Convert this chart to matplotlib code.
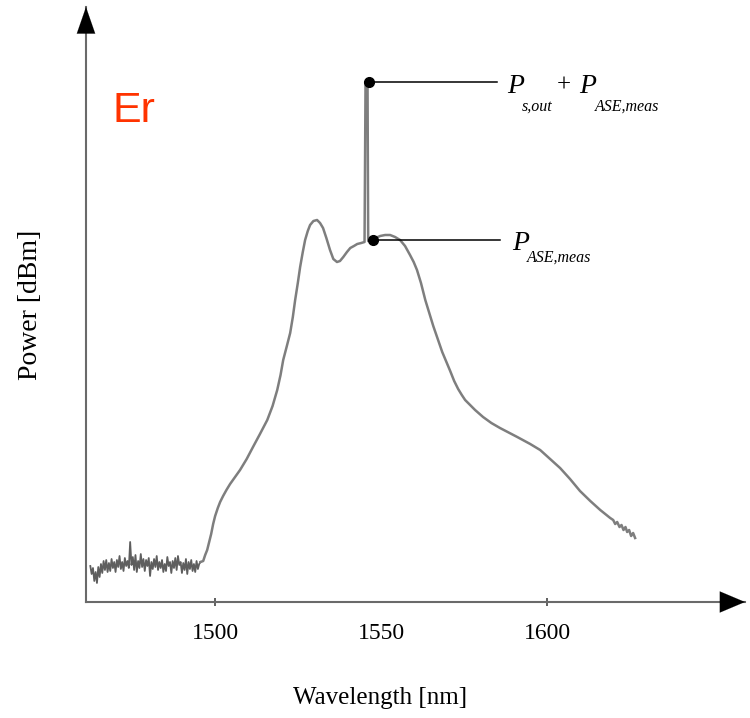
import matplotlib
matplotlib.use("Agg")
import matplotlib.pyplot as plt

plt.rcParams['font.family'] = ['Liberation Serif', 'DejaVu Serif']

# --- noisy floor before the gain band ---
floor_wl = [1462.4, 1462.8, 1463.2, 1463.6, 1464.0, 1464.4, 1464.8, 1465.2, 1465.6, 1466.0,
            1466.4, 1466.8, 1467.2, 1467.6, 1468.0, 1468.4, 1468.8, 1469.2, 1469.6, 1470.0,
            1470.4, 1470.8, 1471.2, 1471.6, 1472.0, 1472.4, 1472.8, 1473.2, 1473.6, 1474.0,
            1474.4, 1474.8, 1475.2, 1475.6, 1476.0, 1476.4, 1476.8, 1477.2, 1477.6, 1478.0,
            1478.4, 1478.8, 1479.2, 1479.6, 1480.0, 1480.4, 1480.8, 1481.2, 1481.6, 1482.0,
            1482.4, 1482.8, 1483.2, 1483.6, 1484.0, 1484.4, 1484.8, 1485.2, 1485.6, 1486.0,
            1486.4, 1486.8, 1487.2, 1487.6, 1488.0, 1488.4, 1488.8, 1489.2, 1489.6, 1490.0,
            1490.4, 1490.8, 1491.2, 1491.6, 1492.0, 1492.4, 1492.8, 1493.2, 1493.6, 1494.0,
            1494.4, 1494.8, 1495.2]
floor_pw = [-56.4, -57.2, -56.6, -57.9, -57.0, -58.1, -56.5, -57.5, -56.2, -57.1,
            -55.9, -56.8, -55.8, -57.0, -56.1, -56.9, -55.7, -56.6, -56.0, -57.0,
            -55.8, -56.5, -55.4, -56.7, -56.0, -56.9, -55.6, -56.4, -55.9, -56.6,
            -54.0, -56.3, -55.5, -56.8, -55.3, -57.0, -55.9, -56.6, -55.2, -56.5,
            -55.7, -56.9, -55.8, -56.4, -55.6, -57.4, -56.0, -56.7, -55.7, -56.5,
            -55.4, -56.8, -56.0, -56.6, -55.8, -57.0, -56.2, -56.9, -55.5, -56.4,
            -56.0, -57.1, -55.9, -56.6, -55.6, -56.8, -55.4, -56.3, -56.0, -57.1,
            -56.1, -56.8, -55.7, -57.2, -56.0, -56.7, -55.8, -56.9, -56.2, -57.0,
            -55.9, -56.7, -56.2]

# --- ASE band with the signal spike ---
band_wl = [1495.6, 1496.4, 1497.0, 1497.6, 1498.2, 1498.8, 1499.4, 1500.0, 1500.8, 1501.5,
           1502.4, 1503.4, 1504.5, 1506.0, 1507.5, 1509.5, 1511.4, 1513.5, 1515.7, 1517.3,
           1518.7, 1519.7, 1520.5, 1521.6, 1522.6, 1523.4, 1524.1, 1524.9, 1525.6, 1526.4,
           1527.1, 1527.9, 1528.6, 1529.6, 1530.7, 1531.6, 1532.5, 1533.5, 1534.6, 1535.6,
           1536.7, 1537.6, 1538.6, 1539.7, 1540.7, 1541.8, 1542.8, 1544.0, 1545.0, 1545.3,
           1545.9, 1546.1, 1547.6, 1549.7, 1551.2, 1552.7, 1554.2, 1555.7, 1557.2, 1558.7,
           1559.8, 1560.8, 1562.0, 1563.3, 1565.7, 1568.4, 1570.8, 1572.0, 1573.2, 1574.3,
           1575.3, 1576.8, 1578.3, 1580.7, 1583.2, 1585.8, 1591.0, 1594.9, 1597.9, 1600.9,
           1603.9, 1606.9, 1609.9, 1613.0, 1616.0, 1619.0, 1619.9, 1620.5, 1621.1, 1621.8,
           1622.4, 1623.0, 1623.6, 1624.1, 1624.7, 1625.3, 1625.9, 1626.5]
band_pw = [-56.0, -55.9, -55.3, -54.8, -54.0, -53.2, -52.2, -51.4, -50.6, -50.0,
           -49.4, -48.8, -48.2, -47.5, -46.8, -45.7, -44.5, -43.2, -41.8, -40.4,
           -38.8, -37.3, -35.8, -34.4, -33.1, -31.5, -29.8, -28.1, -26.5, -25.0,
           -23.8, -22.9, -22.3, -21.9, -21.8, -22.1, -22.6, -23.6, -24.8, -25.7,
           -26.0, -25.9, -25.5, -25.0, -24.6, -24.4, -24.2, -24.1, -24.0, -8.0,
           -8.0, -23.9, -23.7, -23.4, -23.3, -23.3, -23.5, -23.8, -24.4, -25.3,
           -26.0, -26.8, -28.1, -29.8, -32.4, -35.0, -36.9, -37.9, -38.7, -39.3,
           -39.8, -40.3, -40.8, -41.5, -42.1, -42.6, -43.5, -44.2, -44.8, -45.7,
           -46.6, -47.7, -48.9, -49.9, -50.8, -51.6, -51.8, -52.2, -52.0, -52.5,
           -52.3, -52.8, -52.5, -53.0, -52.8, -53.4, -53.1, -53.6]

# marked points
sig_pt = (1546.4, -8.0)
ase_pt = (1547.6, -23.8)
line_end = [1584.9, 1585.8]
xticks = [1500, 1550, 1600]

fig = plt.figure(figsize=(7.5, 7.18), dpi=100)
ax = fig.add_axes([86/750, 116/718, 659/750, 595/718])

# noise floor drawn a bit darker/thinner, then the smooth band
ax.plot(floor_wl + band_wl[:1], floor_pw + band_pw[:1], color='#5e5e5e', lw=1.3, zorder=2)
ax.plot(band_wl, band_pw, color='#7e7e7e', lw=1.8, solid_joinstyle='round', zorder=2)

# markers + leader lines
ax.plot([sig_pt[0], line_end[0]], [sig_pt[1], sig_pt[1]], color='black', lw=1.1, zorder=3)
ax.plot([ase_pt[0], line_end[1]], [ase_pt[1], ase_pt[1]], color='black', lw=1.1, zorder=3)
ax.plot([sig_pt[0], ase_pt[0]], [sig_pt[1], ase_pt[1]], 'o', color='black', ms=7, zorder=4)


def pix(x, y):
    return x / 750, 1 - y / 718


# labels: P with italic subscripts, placed by hand
it = dict(style='italic', va='baseline', ha='left')
fig.text(*pix(507, 93), 'P', fontsize=20, **it)
fig.text(*pix(522, 111), 's,out', fontsize=11.5, **it)
fig.text(*pix(557, 92), '+', fontsize=18, va='baseline', ha='left')
fig.text(*pix(579, 93), 'P', fontsize=20, **it)
fig.text(*pix(595, 111), 'ASE,meas', fontsize=11.5, **it)
fig.text(*pix(512, 250), 'P', fontsize=20, **it)
fig.text(*pix(527, 262), 'ASE,meas', fontsize=11.5, **it)

ax.text(1469.0, -12.0, 'Er', color='#ff3300', fontsize=31, family='Liberation Sans',
        va='baseline', ha='left')

ax.set_xlim(1461.1, 1659.6)
ax.set_ylim(-60, -0.5)

# axes with arrow heads
for s in ['top', 'right']:
    ax.spines[s].set_visible(False)
for s in ['left', 'bottom']:
    ax.spines[s].set_color('#6a6a6a')
    ax.spines[s].set_linewidth(1.5)
ax.annotate('', xy=(1.0, 0), xytext=(0.97, 0), xycoords='axes fraction',
            arrowprops=dict(arrowstyle='-|>,head_length=0.9,head_width=0.38',
                            mutation_scale=20, color='black', lw=0.1, shrinkA=0, shrinkB=0),
            annotation_clip=False)
ax.annotate('', xy=(0, 1.0), xytext=(0, 0.97), xycoords='axes fraction',
            arrowprops=dict(arrowstyle='-|>,head_length=0.95,head_width=0.33',
                            mutation_scale=20, color='black', lw=0.1, shrinkA=0, shrinkB=0),
            annotation_clip=False)

ax.set_xticks(xticks)
ax.set_xticklabels([str(t) for t in xticks], fontsize=17)
ax.tick_params(axis='x', direction='inout', length=6, width=1.2, color='#444444', pad=12)
ax.xaxis.get_major_ticks()[1].tick1line.set_visible(False)
ax.set_yticks([])

ax.set_xlabel('Wavelength [nm]', fontsize=18)
ax.xaxis.set_label_coords(0.446, -0.143)
ax.set_ylabel('Power [dBm]', fontsize=20)
ax.yaxis.set_label_coords(-0.066, 0.5)

fig.savefig('out.png', dpi=100, facecolor='white')
